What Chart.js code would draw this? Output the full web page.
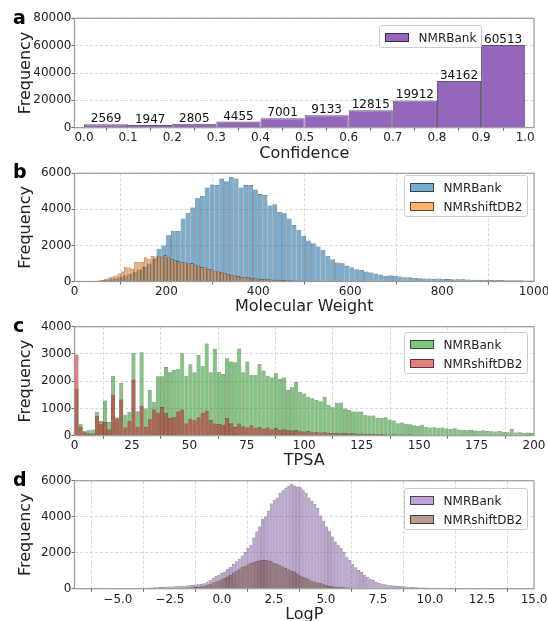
<!DOCTYPE html>
<html>
<head>
<meta charset="utf-8">
<script src="https://cdn.jsdelivr.net/npm/chart.js@4.4.1/dist/chart.umd.min.js"></script>
<style>
  html, body { margin: 0; padding: 0; background: #fff; }
  #page { position: relative; width: 548px; height: 621px; overflow: hidden; font-family: "DejaVu Sans", sans-serif; }
  #page canvas { position: absolute; left: 0; top: 0; }
  .tag { position: absolute; font-weight: bold; font-size: 19px; line-height: 19px; color: #000; }
  .legend { position: absolute; background: rgba(255,255,255,0.8); border: 1px solid #cccccc; border-radius: 3px;
            padding: 4px 5px 2px 5px; font-size: 12px; color: #222; white-space: nowrap; }
  .legend .row { display: flex; align-items: center; height: 15px; }
  .legend .row + .row { margin-top: 4px; }
  .legend .sw { width: 24px; height: 9px; margin-right: 9.6px; box-sizing: border-box; border: 1px solid rgba(0,0,0,0.6); }
</style>
</head>
<body>
<div id="page">
  <canvas id="chartA" width="548" height="621"></canvas>
  <canvas id="chartB" width="548" height="621"></canvas>
  <canvas id="chartC" width="548" height="621"></canvas>
  <canvas id="chartD" width="548" height="621"></canvas>
  <div class="tag" style="left:13px;top:8px">a</div>
  <div class="tag" style="left:13px;top:162px">b</div>
  <div class="tag" style="left:13px;top:316px">c</div>
  <div class="tag" style="left:13px;top:470px">d</div>
  <div class="legend" id="legendA" style="left:379px;top:25px"></div>
  <div class="legend" id="legendB" style="left:404px;top:175px"></div>
  <div class="legend" id="legendC" style="left:404px;top:332px"></div>
  <div class="legend" id="legendD" style="left:404px;top:488px"></div>
</div>
<script>
// ---- a: Confidence (10 bins of 0.1) ----
const confBinStart = 0;
const confBinWidth = 0.1;
const confCounts = [2569, 1947, 2805, 4455, 7001, 9133, 12815, 19912, 34162, 60513];
const confTicks = [0, 0.1, 0.2, 0.3, 0.4, 0.5, 0.6, 0.7, 0.8, 0.9, 1.0];
const confTickLabels = ['0.0', '0.1', '0.2', '0.3', '0.4', '0.5', '0.6', '0.7', '0.8', '0.9', '1.0'];
const freqTicksA = [0, 20000, 40000, 60000, 80000];

// ---- b: Molecular Weight ----
const mwBankBinWidth = 10.5;
const mwBankCounts = [
  10, 15, 20, 30, 40, 60, 90, 130, 180, 250, 330, 430, 540, 660, 800, 1000, 1250, 1820, 2000, 2560,
  2820, 2800, 3500, 3815, 4110, 4610, 4740, 5215, 5380, 5345, 5710, 5565, 5800, 5710, 5215, 5345, 5345, 5100, 4850, 4790,
  4220, 4290, 3870, 3780, 3500, 3130, 2860, 2525, 2270, 2120, 1935, 1750, 1420, 1235, 1050, 1010, 870, 790, 680, 645,
  550, 500, 425, 390, 310, 350, 310, 275, 240, 240, 200, 185, 165, 165, 150, 160, 140, 135, 130, 120,
  120, 110, 100, 100, 95, 90, 85, 80, 80, 75, 70, 70, 65, 60, 60, 55
];
const mwShiftBinWidth = 7.2;
const mwShiftCounts = [
  5, 10, 20, 15, 20, 25, 40, 60, 90, 150, 220, 280, 330, 450, 550, 820, 770, 700, 1100, 1080,
  1100, 1350, 1250, 1420, 1390, 1430, 1380, 1450, 1350, 1250, 1180, 1130, 1080, 1060, 1000, 1020, 940, 880, 800, 780,
  700, 680, 600, 560, 530, 470, 420, 380, 330, 300, 270, 250, 230, 200, 180, 170, 150, 140, 120, 110,
  100, 95, 85, 80, 70, 65, 60, 55, 50, 45, 40, 38, 35, 30, 28, 25, 22, 20, 20, 18,
  15, 14, 13, 12, 11, 10, 10, 9, 8, 8, 7, 7, 6, 6, 5, 5, 5, 4, 4, 3, 3
];
const mwTicks = [0, 200, 400, 600, 800, 1000];
const mwTickLabels = ['0', '200', '400', '600', '800', '1000'];
const freqTicksB = [0, 2000, 4000, 6000];

// ---- c: TPSA (same bins for both sets) ----
const tpsaBinWidth = 1.77;
const tpsaBankCounts = [
  1720, 440, 170, 200, 230, 870, 430, 1290, 500, 2200, 680, 1930, 770, 870, 3040, 900, 3060, 1000, 1680, 1250,
  2180, 2180, 2520, 2330, 2410, 2460, 3030, 2200, 2620, 2330, 2960, 2570, 3380, 2330, 3180, 2350, 2260, 2840, 2720, 2700,
  3200, 2330, 2720, 2240, 2240, 2630, 2390, 2200, 2140, 2290, 2080, 2140, 1680, 1780, 1970, 1610, 1550, 1430, 1370, 1310,
  1260, 1430, 1140, 1040, 1200, 1220, 1000, 940, 890, 890, 890, 770, 740, 740, 660, 650, 680, 590, 560, 460,
  480, 440, 420, 380, 360, 400, 330, 300, 310, 280, 300, 260, 250, 270, 230, 220, 200, 210, 190, 180,
  200, 170, 160, 150, 170, 140, 130, 250, 120, 130, 110, 120, 100
];
const tpsaShiftCounts = [
  2980, 330, 130, 90, 80, 710, 550, 500, 230, 1500, 620, 1330, 300, 540, 2060, 330, 1100, 320, 600, 960,
  840, 1050, 840, 660, 680, 890, 960, 450, 620, 570, 680, 840, 920, 580, 450, 430, 400, 660, 460, 320,
  450, 350, 300, 380, 280, 320, 260, 300, 230, 280, 210, 240, 200, 190, 210, 160, 150, 170, 130, 140,
  120, 130, 110, 100, 110, 90, 100, 80, 90, 70, 80, 60, 70, 60, 50, 60, 50, 40, 50, 40,
  40, 35, 40, 30, 35, 30, 25, 30, 25, 20, 25, 20, 20, 15, 20, 15, 15, 12, 15, 12,
  10, 12, 10, 10, 8, 10, 8, 8, 6, 8, 6, 6, 5
];
const tpsaTicks = [0, 25, 50, 75, 100, 125, 150, 175, 200];
const tpsaTickLabels = ['0', '25', '50', '75', '100', '125', '150', '175', '200'];
const freqTicksC = [0, 1000, 2000, 3000, 4000];

// ---- d: LogP (bins of 0.14 from -7.08) ----
const logpBinStart = -7.08;
const logpBinWidth = 0.14;
const logpBankCounts = [
  5, 5, 8, 8, 10, 10, 12, 12, 14, 15, 16, 18, 19, 20, 22, 24, 26, 28, 31, 34,
  38, 42, 47, 52, 58, 64, 70, 77, 84, 92, 100, 108, 117, 126, 136, 147, 158, 170, 183, 197,
  212, 228, 245, 260, 300, 370, 480, 590, 700, 780, 870, 960, 1110, 1220, 1370, 1520, 1665, 1850, 2035, 2257,
  2440, 2850, 3180, 3460, 3885, 4015, 4330, 4735, 4940, 5070, 5310, 5475, 5625, 5700, 5830, 5735, 5680, 5640, 5475, 5310,
  5070, 4885, 4700, 4477, 4070, 3775, 3460, 3220, 2900, 2627, 2440, 2257, 2035, 1776, 1590, 1370, 1185, 1036, 925, 777,
  666, 555, 480, 370, 320, 280, 250, 220, 195, 175, 160, 145, 130, 118, 105, 96, 88, 80, 73, 67,
  62, 57, 53, 49, 46, 43, 40, 37, 35, 33, 31, 29, 27, 26, 24, 23, 22, 21, 20, 19,
  18, 17, 16, 15, 15, 14, 13, 13, 12, 12, 11, 11, 10, 10, 9, 9, 8, 8
];
const logpShiftCounts = [
  0, 0, 0, 1, 1, 1, 2, 2, 2, 3, 3, 3, 4, 4, 5, 5, 6, 6, 7, 8,
  9, 10, 11, 12, 14, 15, 17, 19, 21, 23, 26, 29, 32, 36, 40, 45, 50, 56, 63, 71,
  80, 95, 110, 130, 170, 220, 280, 340, 400, 460, 530, 590, 680, 780, 900, 1000, 1100, 1200, 1280, 1360,
  1425, 1480, 1550, 1570, 1590, 1600, 1560, 1540, 1430, 1370, 1300, 1230, 1150, 1080, 1000, 960, 850, 740, 660, 590,
  520, 445, 400, 350, 315, 250, 185, 160, 130, 115, 100, 90, 78, 66, 55, 48, 42, 37, 32, 28,
  25, 22, 19, 17, 15, 13, 12, 10, 9, 8, 7, 6, 6, 5, 5, 5, 4, 4, 4, 3,
  3, 3, 3, 2, 2, 2, 2, 2, 2, 1, 1, 1, 1, 1, 1, 1, 1, 1, 1, 1,
  1, 0, 0, 0, 0, 0, 0, 0, 0, 0, 0, 0, 0, 0, 0, 0, 0, 0
];
const logpTicks = [-5, -2.5, 0, 2.5, 5, 7.5, 10, 12.5, 15];
const logpTickLabels = ['\u22125.0', '\u22122.5', '0.0', '2.5', '5.0', '7.5', '10.0', '12.5', '15.0'];
const freqTicksD = [0, 2000, 4000, 6000];

// ---- page geometry (plot boxes measured on the reference) ----
const PAGE_W = 548, PAGE_H = 621;
const PLOT_LEFT = 74.5, PLOT_RIGHT = 534;
const GRID = 'rgba(176,176,176,0.6)';
const EDGE = 'rgba(0,0,0,0.6)';

Chart.defaults.font.family = '"DejaVu Sans", sans-serif';
Chart.defaults.font.size = 12;
Chart.defaults.color = '#222';

// histogram bars: one point per bin, centred in the bin
function histPoints(counts, binStart, binWidth) {
  return counts.map((c, i) => ({ x: binStart + binWidth * (i + 0.5), y: c }));
}

function barSet(label, points, color, axis, order, edgeWidth) {
  return {
    label, data: points, xAxisID: axis, order,
    backgroundColor: color, borderColor: EDGE, borderWidth: edgeWidth,
    barPercentage: 1, categoryPercentage: 1, grouped: false, inflateAmount: 0
  };
}

// full box round the plot, like matplotlib spines
const framePlugin = {
  id: 'frame',
  afterDatasetsDraw(chart) {
    const { ctx, chartArea: a } = chart;
    ctx.save();
    ctx.strokeStyle = '#9a9a9a';
    ctx.lineWidth = 1.2;
    ctx.strokeRect(a.left, a.top, a.right - a.left, a.bottom - a.top);
    ctx.restore();
  }
};

// count written above each bar (panel a)
const barValuePlugin = {
  id: 'barValues',
  afterDatasetsDraw(chart) {
    const ctx = chart.ctx;
    const ds = chart.data.datasets[0];
    ctx.save();
    ctx.font = '12px "DejaVu Sans", sans-serif';
    ctx.fillStyle = '#111';
    ctx.textAlign = 'center';
    ctx.textBaseline = 'alphabetic';
    chart.getDatasetMeta(0).data.forEach((bar, i) => {
      ctx.fillText(String(ds.data[i].y), bar.x, bar.y - 2);
    });
    ctx.restore();
  }
};

function buildOptions(geom, x, y) {
  // title centre sits lineHeight/2 above the axis box bottom; let it hang below the page if needed
  const rawBottom = geom.titleY + 9.6;
  const axisBottom = Math.min(PAGE_H, rawBottom);
  const titlePadBottom = axisBottom - rawBottom;
  const xScale = {
    type: 'linear', min: x.min, max: x.max, offset: false,
    afterBuildTicks: (s) => { s.ticks = x.ticks.map(v => ({ value: v })); },
    afterFit: (s) => { s.height = axisBottom - geom.bottom; s.paddingLeft = 0; s.paddingRight = 0; },
    ticks: { autoSkip: false, maxRotation: 0, minRotation: 0, padding: geom.tickPad, color: '#222',
             callback: (v, i) => x.labels[i] },
    grid: { drawOnChartArea: x.grid, color: GRID, lineWidth: 0.8, tickLength: 3, tickColor: '#444', tickWidth: 0.8 },
    border: { display: false, dash: [3, 2] },
    title: { display: true, text: x.title, font: { size: 16 }, color: '#222',
             padding: { top: 0, bottom: titlePadBottom } }
  };
  return {
    responsive: false,
    animation: false,
    events: [],
    layout: { padding: { top: geom.top, bottom: PAGE_H - axisBottom, left: 0, right: PAGE_W - PLOT_RIGHT } },
    plugins: { legend: { display: false }, tooltip: { enabled: false } },
    scales: {
      x: xScale,
      x2: { type: 'linear', min: x.min, max: x.max, offset: false, display: false },
      y: {
        min: 0, max: y.ticks[y.ticks.length - 1],
        afterBuildTicks: (s) => { s.ticks = y.ticks.map(v => ({ value: v })); },
        afterFit: (s) => { s.width = PLOT_LEFT; s.paddingTop = 0; s.paddingBottom = 0; },
        ticks: { padding: 0, color: '#222', callback: (v) => String(v) },
        grid: { color: GRID, lineWidth: 0.8, tickLength: 3, tickColor: '#444', tickWidth: 0.8 },
        border: { display: false, dash: [3, 2] },
        title: { display: true, text: 'Frequency', font: { size: 16 }, color: '#222', padding: { top: 16.4, bottom: 0 } }
      }
    }
  };
}

function fillLegend(id, datasets) {
  const box = document.getElementById(id);
  datasets.forEach(ds => {
    const row = document.createElement('div');
    row.className = 'row';
    const sw = document.createElement('span');
    sw.className = 'sw';
    sw.style.background = ds.backgroundColor;
    const txt = document.createElement('span');
    txt.textContent = ds.label;
    row.appendChild(sw);
    row.appendChild(txt);
    box.appendChild(row);
  });
}

// ---- a ----
const dsA = [
  Object.assign(barSet('NMRBank', histPoints(confCounts, confBinStart, confBinWidth), '#9467bd', 'x', 1, 1),
                { borderColor: 'rgba(60,40,80,0.8)' })
];
new Chart(document.getElementById('chartA'), {
  type: 'bar',
  data: { datasets: dsA },
  options: buildOptions(
    { top: 18.3, bottom: 127.7, titleY: 154, tickPad: 0 },
    { min: -0.0215, max: 1.02, ticks: confTicks, labels: confTickLabels, grid: false, title: 'Confidence' },
    { ticks: freqTicksA }),
  plugins: [framePlugin, barValuePlugin]
});
fillLegend('legendA', dsA);

// ---- b ----
const dsB = [
  barSet('NMRBank', histPoints(mwBankCounts, 0, mwBankBinWidth), 'rgba(31,119,180,0.6)', 'x', 2, 0.6),
  barSet('NMRshiftDB2', histPoints(mwShiftCounts, 0, mwShiftBinWidth), 'rgba(255,127,14,0.6)', 'x2', 1, 0.6)
];
new Chart(document.getElementById('chartB'), {
  type: 'bar',
  data: { datasets: dsB },
  options: buildOptions(
    { top: 173.3, bottom: 281.5, titleY: 307, tickPad: 0.5 },
    { min: 0, max: 1000, ticks: mwTicks, labels: mwTickLabels, grid: true, title: 'Molecular Weight' },
    { ticks: freqTicksB }),
  plugins: [framePlugin]
});
fillLegend('legendB', dsB);

// ---- c ----
const dsC = [
  barSet('NMRBank', histPoints(tpsaBankCounts, 0, tpsaBinWidth), 'rgba(44,160,44,0.6)', 'x', 2, 0.5),
  barSet('NMRshiftDB2', histPoints(tpsaShiftCounts, 0, tpsaBinWidth), 'rgba(214,39,40,0.6)', 'x2', 1, 0.5)
];
new Chart(document.getElementById('chartC'), {
  type: 'bar',
  data: { datasets: dsC },
  options: buildOptions(
    { top: 326.7, bottom: 435.7, titleY: 460.5, tickPad: 0 },
    { min: 0, max: 200, ticks: tpsaTicks, labels: tpsaTickLabels, grid: true, title: 'TPSA' },
    { ticks: freqTicksC }),
  plugins: [framePlugin]
});
fillLegend('legendC', dsC);

// ---- d ----
const dsD = [
  barSet('NMRBank', histPoints(logpBankCounts, logpBinStart, logpBinWidth), 'rgba(148,103,189,0.6)', 'x', 2, 0.5),
  barSet('NMRshiftDB2', histPoints(logpShiftCounts, logpBinStart, logpBinWidth), 'rgba(140,86,75,0.6)', 'x2', 1, 0.5)
];
new Chart(document.getElementById('chartD'), {
  type: 'bar',
  data: { datasets: dsD },
  options: buildOptions(
    { top: 480.7, bottom: 588.7, titleY: 614.5, tickPad: 1 },
    { min: -7.086, max: 15, ticks: logpTicks, labels: logpTickLabels, grid: true, title: 'LogP' },
    { ticks: freqTicksD }),
  plugins: [framePlugin]
});
fillLegend('legendD', dsD);
</script>
</body>
</html>
